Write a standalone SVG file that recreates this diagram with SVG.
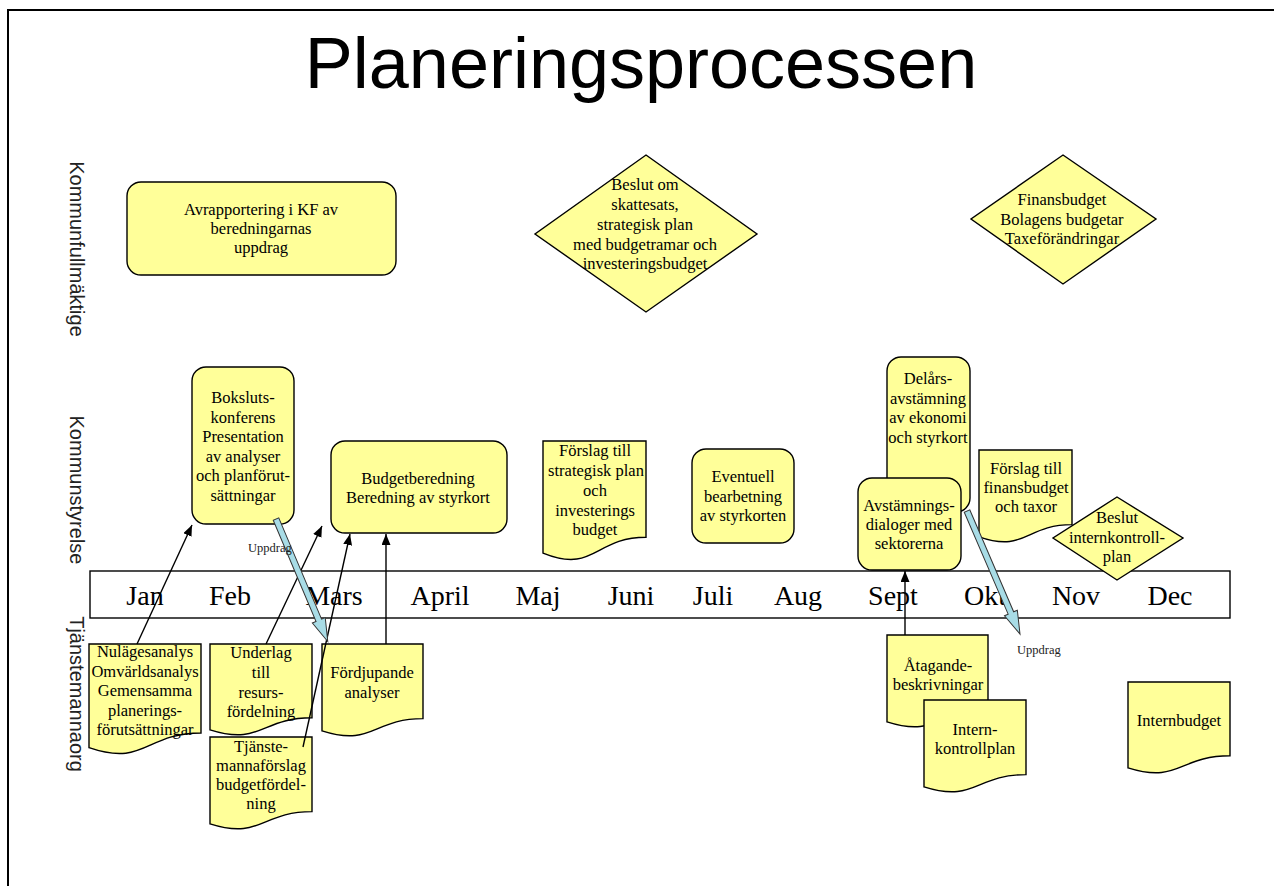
<svg xmlns="http://www.w3.org/2000/svg" width="1274" height="886" viewBox="0 0 1274 886">
<defs>
<style>
.box{fill:#ffff99;stroke:#000;stroke-width:1.4}
.t{font-family:"Liberation Serif","Times New Roman",serif;font-size:16.5px;fill:#000;text-anchor:middle}
.m{font-family:"Liberation Serif","Times New Roman",serif;font-size:28px;fill:#000;text-anchor:middle}
.lane{font-family:"Liberation Sans",Arial,sans-serif;font-size:20px;fill:#222;text-anchor:middle}
.up{font-family:"Liberation Serif","Times New Roman",serif;font-size:12.5px;fill:#222}
.conn{stroke:#000;stroke-width:1.4;fill:none;marker-end:url(#ah)}
.blk{fill:#a8dce6;stroke:#333;stroke-width:1}
</style>
<marker id="ah" markerUnits="userSpaceOnUse" markerWidth="12" markerHeight="10" refX="11" refY="4.5" orient="auto">
<path d="M0,0 L11,4.5 L0,9 z" fill="#000"/>
</marker>
</defs>
<rect width="1274" height="886" fill="#fff"/>
<path d="M8,886 V10 H1274" fill="none" stroke="#000" stroke-width="2"/>
<text x="641" y="88" font-family="Liberation Sans, Arial, sans-serif" font-size="72" text-anchor="middle">Planeringsprocessen</text>

<g id="lanes">
<text class="lane" transform="translate(70,249) rotate(90)">Kommunfullmäktige</text>
<text class="lane" transform="translate(70,490) rotate(90)">Kommunstyrelse</text>
<text class="lane" transform="translate(70,694) rotate(90)">Tjänstemannaorg</text>
</g>

<g id="timeline">
<rect x="90" y="571" width="1140" height="47" fill="#fff" stroke="#000" stroke-width="1.4"/>
<text class="m" x="145" y="605">Jan</text>
<text class="m" x="230" y="605">Feb</text>
<text class="m" x="334" y="605">Mars</text>
<text class="m" x="440" y="605">April</text>
<text class="m" x="538" y="605">Maj</text>
<text class="m" x="631" y="605">Juni</text>
<text class="m" x="713" y="605">Juli</text>
<text class="m" x="798" y="605">Aug</text>
<text class="m" x="893" y="605">Sept</text>
<text class="m" x="985" y="605">Okt</text>
<text class="m" x="1076" y="605">Nov</text>
<text class="m" x="1170" y="605">Dec</text>
</g>

<g id="avrapportering">
<rect class="box" x="127" y="182" width="269" height="93" rx="14"/>
<text class="t" x="261" y="215">Avrapportering i KF av</text>
<text class="t" x="261" y="234">beredningarnas</text>
<text class="t" x="261" y="253">uppdrag</text>
</g>

<g id="beslut-skattesats">
<polygon class="box" points="646,155 757,234 646,312 535,234"/>
<text class="t" x="645" y="190">Beslut om</text>
<text class="t" x="645" y="210">skattesats,</text>
<text class="t" x="645" y="230">strategisk plan</text>
<text class="t" x="645" y="250">med budgetramar och</text>
<text class="t" x="645" y="269">investeringsbudget</text>
</g>

<g id="finansbudget">
<polygon class="box" points="1063,155 1156,219 1063,284 971,219"/>
<text class="t" x="1062" y="205">Finansbudget</text>
<text class="t" x="1062" y="225">Bolagens budgetar</text>
<text class="t" x="1062" y="244">Taxeförändringar</text>
</g>

<g id="bokslut">
<rect class="box" x="192" y="367" width="102" height="157" rx="14"/>
<text class="t" x="243" y="403">Boksluts-</text>
<text class="t" x="243" y="423">konferens</text>
<text class="t" x="243" y="442">Presentation</text>
<text class="t" x="243" y="462">av analyser</text>
<text class="t" x="243" y="481">och planförut-</text>
<text class="t" x="243" y="501">sättningar</text>
</g>

<g id="budgetberedning">
<rect class="box" x="331" y="441" width="176" height="92" rx="14"/>
<text class="t" x="418" y="484">Budgetberedning</text>
<text class="t" x="418" y="503">Beredning av styrkort</text>
</g>

<g id="forslag-strategisk">
<path class="box" d="M543,441 H646 V537.2 C594.5,537.2 594.5,573.9 543,553.1 Z"/>
<text class="t" x="595" y="456">Förslag till</text>
<text class="t" x="596" y="476">strategisk plan</text>
<text class="t" x="595" y="496">och</text>
<text class="t" x="595" y="516">investerings</text>
<text class="t" x="595" y="535">budget</text>
</g>

<g id="eventuell">
<rect class="box" x="692" y="449" width="102" height="94" rx="14"/>
<text class="t" x="743" y="482">Eventuell</text>
<text class="t" x="743" y="502">bearbetning</text>
<text class="t" x="743" y="521">av styrkorten</text>
</g>

<g id="delars">
<rect class="box" x="887" y="357" width="83" height="155" rx="14"/>
<text class="t" x="928" y="384">Delårs-</text>
<text class="t" x="928" y="404">avstämning</text>
<text class="t" x="928" y="423">av ekonomi</text>
<text class="t" x="928" y="443">och styrkort</text>
</g>

<g id="avstamning">
<rect class="box" x="858" y="478" width="103" height="92" rx="14"/>
<text class="t" x="909" y="511">Avstämnings-</text>
<text class="t" x="909" y="530">dialoger med</text>
<text class="t" x="909" y="549">sektorerna</text>
</g>

<g id="forslag-finans">
<path class="box" d="M979,450 H1072 V524.6 C1025.5,524.6 1025.5,553 979,536.9 Z"/>
<text class="t" x="1026" y="474">Förslag till</text>
<text class="t" x="1026" y="493">finansbudget</text>
<text class="t" x="1026" y="512">och taxor</text>
</g>

<g id="beslut-intern">
<polygon class="box" points="1117,497 1183,538 1117,580 1053,538"/>
<text class="t" x="1117" y="523">Beslut</text>
<text class="t" x="1117" y="543">internkontroll-</text>
<text class="t" x="1117" y="562">plan</text>
</g>

<g id="nulage">
<path class="box" d="M89,644 H201 V733 C145,733 145,766.9 89,747.7 Z"/>
<text class="t" x="145" y="657">Nulägesanalys</text>
<text class="t" x="145" y="677">Omvärldsanalys</text>
<text class="t" x="145" y="696">Gemensamma</text>
<text class="t" x="145" y="716">planerings-</text>
<text class="t" x="145" y="735">förutsättningar</text>
</g>

<g id="underlag">
<path class="box" d="M210,644 H312 V717.8 C261,717.8 261,745.9 210,729.9 Z"/>
<text class="t" x="261" y="658">Underlag</text>
<text class="t" x="261" y="678">till</text>
<text class="t" x="261" y="698">resurs-</text>
<text class="t" x="261" y="717">fördelning</text>
</g>

<g id="tjanste">
<path class="box" d="M210,737 H312 V811.6 C261,811.6 261,840 210,823.9 Z"/>
<text class="t" x="261" y="752">Tjänste-</text>
<text class="t" x="261" y="771">mannaförslag</text>
<text class="t" x="261" y="790">budgetfördel-</text>
<text class="t" x="261" y="809">ning</text>
</g>

<g id="fordjupande">
<path class="box" d="M322,644 H423 V718.6 C372.5,718.6 372.5,747 322,730.9 Z"/>
<text class="t" x="372" y="678">Fördjupande</text>
<text class="t" x="372" y="698">analyser</text>
</g>

<g id="atagande">
<path class="box" d="M887,635 H988 V709.6 C937.5,709.6 937.5,738 887,721.9 Z"/>
<text class="t" x="938" y="671">Åtagande-</text>
<text class="t" x="938" y="690">beskrivningar</text>
</g>

<g id="internkontroll">
<path class="box" d="M924,700 H1026 V774.6 C975,774.6 975,803 924,786.9 Z"/>
<text class="t" x="975" y="735">Intern-</text>
<text class="t" x="975" y="754">kontrollplan</text>
</g>

<g id="internbudget">
<path class="box" d="M1128,682 H1230 V755.8 C1179,755.8 1179,783.9 1128,767.9 Z"/>
<text class="t" x="1179" y="726">Internbudget</text>
</g>

<g id="connectors">
<line class="conn" x1="137" y1="644" x2="192" y2="525"/>
<line class="conn" x1="266" y1="644" x2="322" y2="526"/>
<line class="conn" x1="303" y1="747" x2="350" y2="534"/>
<line class="conn" x1="386" y1="644" x2="386" y2="534"/>
<line class="conn" x1="905" y1="635" x2="905" y2="571"/>
<polygon class="blk" transform="translate(276,519) rotate(67.1)" points="0,-3 110,-3 110,-7 133,0 110,7 110,3 0,3"/>
<polygon class="blk" transform="translate(967,511) rotate(66.7)" points="0,-3 111,-3 111,-7 134,0 111,7 111,3 0,3"/>
<text class="up" x="248" y="552">Uppdrag</text>
<text class="up" x="1017" y="654">Uppdrag</text>
</g>
</svg>
